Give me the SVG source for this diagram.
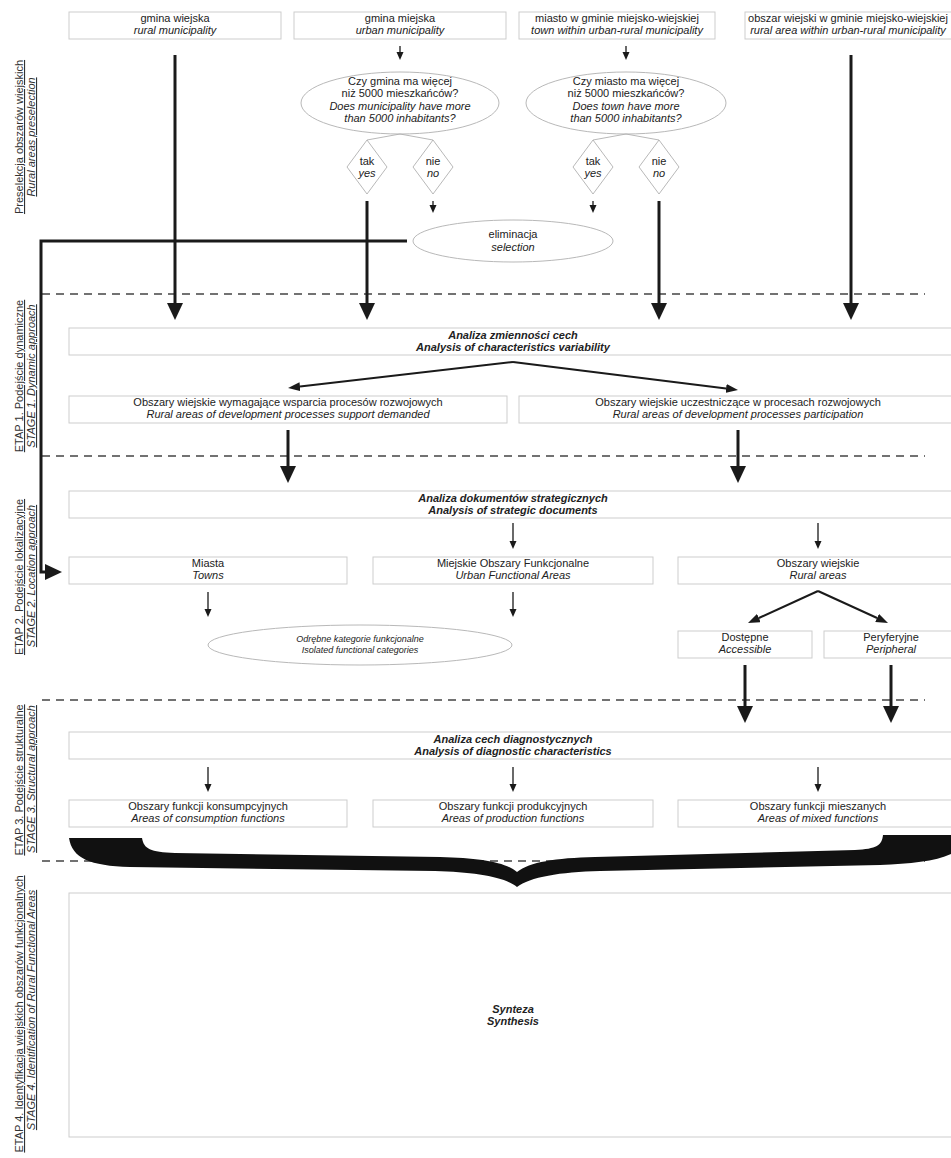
<svg xmlns="http://www.w3.org/2000/svg" width="951" height="1158" viewBox="0 0 951 1158">
<defs>
<style>
text{font-family:"Liberation Sans",Arial,sans-serif;font-size:11px;fill:#222;text-anchor:middle}
.it{font-style:italic}
.b{font-weight:bold;font-style:italic}
.sm{font-size:9px;font-style:italic}
.lab{text-decoration:underline;fill:#333}
.box{fill:#fff;stroke:#cdcdcd;stroke-width:1}
.ell{fill:#fff;stroke:#b0b0b0;stroke-width:0.9}
.thin{stroke:#b0b0b0;stroke-width:0.9;fill:none}
.thick{stroke:#1a1a1a;stroke-width:3;fill:none;marker-end:url(#hBig)}
.med{stroke:#1a1a1a;stroke-width:1.3;fill:none;marker-end:url(#hSm)}
.split{stroke:#1a1a1a;stroke-width:2;fill:none;marker-end:url(#hMid)}
.dash{stroke:#444;stroke-width:1.3;stroke-dasharray:8 6;fill:none}
</style>
<marker id="hBig" markerUnits="userSpaceOnUse" markerWidth="18" markerHeight="17" refX="0" refY="8" orient="auto"><path d="M0,0 L17,8 L0,16 Z" fill="#1a1a1a"/></marker>
<marker id="hSm" markerUnits="userSpaceOnUse" markerWidth="9" markerHeight="8" refX="0" refY="3.5" orient="auto"><path d="M0,0 L8,3.5 L0,7 Z" fill="#1a1a1a"/></marker>
<marker id="hMid" markerUnits="userSpaceOnUse" markerWidth="13" markerHeight="9" refX="0" refY="4.5" orient="auto"><path d="M0,0 L12,4.5 L0,9 Z" fill="#1a1a1a"/></marker>
</defs>
<rect width="951" height="1158" fill="#fff"/>

<g id="stage-labels">
<text class="lab" transform="translate(23,137) rotate(-90)">Preselekcja obszarów wiejskich</text>
<text class="lab it" transform="translate(35,137) rotate(-90)">Rural areas preselection</text>
<text class="lab" transform="translate(23,376) rotate(-90)">ETAP 1. Podejście dynamiczne</text>
<text class="lab it" transform="translate(35,376) rotate(-90)">STAGE 1. Dynamic approach</text>
<text class="lab" transform="translate(23,577) rotate(-90)">ETAP 2. Podejście lokalizacyjne</text>
<text class="lab it" transform="translate(35,576) rotate(-90)">STAGE 2. Location approach</text>
<text class="lab" transform="translate(23,780) rotate(-90)">ETAP 3. Podejście strukturalne</text>
<text class="lab it" transform="translate(35,779) rotate(-90)">STAGE 3. Structural approach</text>
<text class="lab" transform="translate(23,1014) rotate(-90)">ETAP 4. Identyfikacja wiejskich obszarów funkcjonalnych</text>
<text class="lab it" transform="translate(35,1010) rotate(-90)">STAGE 4. Identification of Rural Functional Areas</text>
</g>

<g id="dividers">
<line class="dash" x1="42" y1="294" x2="925" y2="294"/>
<line class="dash" x1="42" y1="456" x2="925" y2="456"/>
<line class="dash" x1="42" y1="700" x2="925" y2="700"/>
<line class="dash" x1="42" y1="861" x2="925" y2="861"/>
</g>

<g id="n-gmina-wiejska"><rect class="box" x="69" y="12" width="212" height="27"/><text x="175" y="22">gmina wiejska</text><text class="it" x="175" y="34">rural municipality</text></g>
<g id="n-gmina-miejska"><rect class="box" x="294" y="12" width="212" height="27"/><text x="400" y="22">gmina miejska</text><text class="it" x="400" y="34">urban municipality</text></g>
<g id="n-miasto"><rect class="box" x="519" y="12" width="196" height="27"/><text x="617" y="22">miasto w gminie miejsko-wiejskiej</text><text class="it" x="617" y="34">town within urban-rural municipality</text></g>
<g id="n-obszar"><rect class="box" x="745" y="12" width="215" height="27"/><text x="848" y="22">obszar wiejski w gminie miejsko-wiejskiej</text><text class="it" x="848" y="34">rural area within urban-rural municipality</text></g>

<g id="n-q1"><ellipse class="ell" cx="400" cy="103" rx="99" ry="31"/><text x="400" y="85">Czy gmina ma więcej</text><text x="400" y="97">niż 5000 mieszkańców?</text><text class="it" x="400" y="110">Does municipality have more</text><text class="it" x="400" y="122">than 5000 inhabitants?</text></g>
<g id="n-q2"><ellipse class="ell" cx="626" cy="103" rx="100" ry="31"/><text x="626" y="85">Czy miasto ma więcej</text><text x="626" y="97">niż 5000 mieszkańców?</text><text class="it" x="626" y="110">Does town have more</text><text class="it" x="626" y="122">than 5000 inhabitants?</text></g>

<g id="n-tak1"><polygon class="ell" points="367,140 387,167 367,194 347,167"/><text x="367" y="165">tak</text><text class="it" x="367" y="177">yes</text></g>
<g id="n-nie1"><polygon class="ell" points="433,140 453,167 433,194 413,167"/><text x="433" y="165">nie</text><text class="it" x="433" y="177">no</text></g>
<g id="n-tak2"><polygon class="ell" points="593,140 613,167 593,194 573,167"/><text x="593" y="165">tak</text><text class="it" x="593" y="177">yes</text></g>
<g id="n-nie2"><polygon class="ell" points="659,140 679,167 659,194 639,167"/><text x="659" y="165">nie</text><text class="it" x="659" y="177">no</text></g>

<g id="n-eliminacja"><ellipse class="ell" cx="513" cy="241" rx="100" ry="21"/><text x="513" y="238">eliminacja</text><text class="it" x="513" y="251">selection</text></g>

<g id="n-analiza-zmiennosci"><rect class="box" x="69" y="328" width="890" height="27"/><text class="b" x="513" y="339">Analiza zmienności cech</text><text class="b" x="513" y="351">Analysis of characteristics variability</text></g>
<g id="n-wymagajace"><rect class="box" x="69" y="396" width="438" height="27"/><text x="288" y="406">Obszary wiejskie wymagające wsparcia procesów rozwojowych</text><text class="it" x="288" y="418">Rural areas of development processes support demanded</text></g>
<g id="n-uczestniczace"><rect class="box" x="519" y="396" width="440" height="27"/><text x="738" y="406">Obszary wiejskie uczestniczące w procesach rozwojowych</text><text class="it" x="738" y="418">Rural areas of development processes participation</text></g>

<g id="n-analiza-dokumentow"><rect class="box" x="69" y="491" width="890" height="27"/><text class="b" x="513" y="502">Analiza dokumentów strategicznych</text><text class="b" x="513" y="514">Analysis of strategic documents</text></g>

<g id="n-miasta"><rect class="box" x="69" y="557" width="278" height="27"/><text x="208" y="567">Miasta</text><text class="it" x="208" y="579">Towns</text></g>
<g id="n-mof"><rect class="box" x="373" y="557" width="280" height="27"/><text x="513" y="567">Miejskie Obszary Funkcjonalne</text><text class="it" x="513" y="579">Urban Functional Areas</text></g>
<g id="n-obszary-wiejskie"><rect class="box" x="678" y="557" width="281" height="27"/><text x="818" y="567">Obszary wiejskie</text><text class="it" x="818" y="579">Rural areas</text></g>

<g id="n-odrebne"><ellipse class="ell" cx="360" cy="645" rx="152" ry="20"/><text class="sm" x="360" y="642">Odrębne kategorie funkcjonalne</text><text class="sm" x="360" y="653">Isolated functional categories</text></g>

<g id="n-dostepne"><rect class="box" x="678" y="631" width="134" height="27"/><text x="745" y="641">Dostępne</text><text class="it" x="745" y="653">Accessible</text></g>
<g id="n-peryferyjne"><rect class="box" x="824" y="631" width="135" height="27"/><text x="891" y="641">Peryferyjne</text><text class="it" x="891" y="653">Peripheral</text></g>

<g id="n-analiza-cech"><rect class="box" x="69" y="732" width="890" height="27"/><text class="b" x="513" y="743">Analiza cech diagnostycznych</text><text class="b" x="513" y="755">Analysis of diagnostic characteristics</text></g>

<g id="n-konsumpcyjne"><rect class="box" x="69" y="800" width="278" height="27"/><text x="208" y="810">Obszary funkcji konsumpcyjnych</text><text class="it" x="208" y="822">Areas of consumption functions</text></g>
<g id="n-produkcyjne"><rect class="box" x="373" y="800" width="280" height="27"/><text x="513" y="810">Obszary funkcji produkcyjnych</text><text class="it" x="513" y="822">Areas of production functions</text></g>
<g id="n-mieszane"><rect class="box" x="678" y="800" width="281" height="27"/><text x="818" y="810">Obszary funkcji mieszanych</text><text class="it" x="818" y="822">Areas of mixed functions</text></g>

<g id="n-brace"><path fill="#111" d="M69,838 L142,838 C144,849 150,852 175,853 L440,857 C480,858 505,862 517,872 C530,862 555,858 595,857 L855,850 C877,849 882,845 883,835 L955,835 L955,852 C940,861 912,864 880,865 L600,871 C560,872 530,877 517,887 C505,877 475,872 435,871 L130,867 C90,866 72,858 69,838 Z"/></g>

<g id="n-synteza"><rect class="box" x="69" y="893" width="890" height="244"/><text class="b" x="513" y="1013">Synteza</text><text class="b" x="513" y="1025">Synthesis</text></g>

<g id="connectors">
<path class="thin" d="M367,140 L400,134 L433,140"/>
<path class="thin" d="M593,140 L626,134 L659,140"/>
<path class="med" d="M400,46 V52"/>
<path class="med" d="M626,46 V52"/>
<path class="med" d="M433,201 V205"/>
<path class="med" d="M593,201 V205"/>
<path class="thick" d="M175,55 V303"/>
<path class="thick" d="M367,201 V303"/>
<path class="thick" d="M659,201 V303"/>
<path class="thick" d="M851,55 V303"/>
<path class="thick" d="M407,241 H41 V572 H45"/>
<path class="split" d="M513,362 L300,386.6"/>
<path class="split" d="M513,362 L726.1,388.5"/>
<path class="thick" d="M288,430 V466"/>
<path class="thick" d="M738,430 V466"/>
<path class="med" d="M513,523 V541"/>
<path class="med" d="M818,523 V541"/>
<path class="med" d="M208,592 V609"/>
<path class="med" d="M513,592 V609"/>
<path class="split" d="M818,591 L758.9,618"/>
<path class="split" d="M818,591 L877.1,618"/>
<path class="thick" d="M745,665 V706"/>
<path class="thick" d="M891,665 V706"/>
<path class="med" d="M208,767 V784"/>
<path class="med" d="M513,767 V784"/>
<path class="med" d="M818,767 V784"/>
</g>
</svg>
